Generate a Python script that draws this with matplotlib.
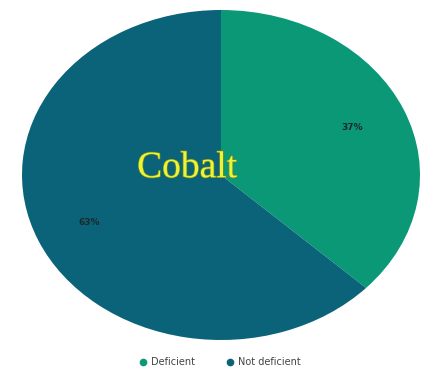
import matplotlib.pyplot as plt
from matplotlib.lines import Line2D
import matplotlib.patheffects as pe

categories = ["Deficient", "Not deficient"]
values = [37, 63]
colors = ["#0B9877", "#0A6379"]
title_text = "Cobalt"

fig = plt.figure(figsize=(4.22, 3.75), dpi=100)
ax = fig.add_axes([22/422, 35/375, 398/422, 330/375])
wedges, texts, autotexts = ax.pie(
    values, colors=colors, startangle=90, counterclock=False,
    autopct='%1.0f%%', pctdistance=0.72,
    textprops=dict(fontsize=6.5, color="#1a2a2a", fontweight='bold'),
    wedgeprops=dict(linewidth=0))
ax.set_aspect('auto')
ax.set_xlim(-1, 1)
ax.set_ylim(-1, 1)

fig.text(187/422, 1 - 168/375, title_text, fontsize=27, family="Liberation Serif",
         color="#E8F53A", ha='center', va='center',
         path_effects=[pe.withStroke(linewidth=1.0, foreground="#7a8a20")])

handles = [Line2D([0], [0], marker='o', linestyle='', markersize=4.5,
                  markerfacecolor=c, markeredgecolor=c) for c in colors]
fig.legend(handles, categories, loc='center', bbox_to_anchor=(0.52, 1 - 362/375),
           ncol=2, frameon=False, fontsize=7, labelcolor="#444444",
           handletextpad=0.3, columnspacing=3.2, handlelength=1.0)

fig.savefig("out.png", dpi=100)
